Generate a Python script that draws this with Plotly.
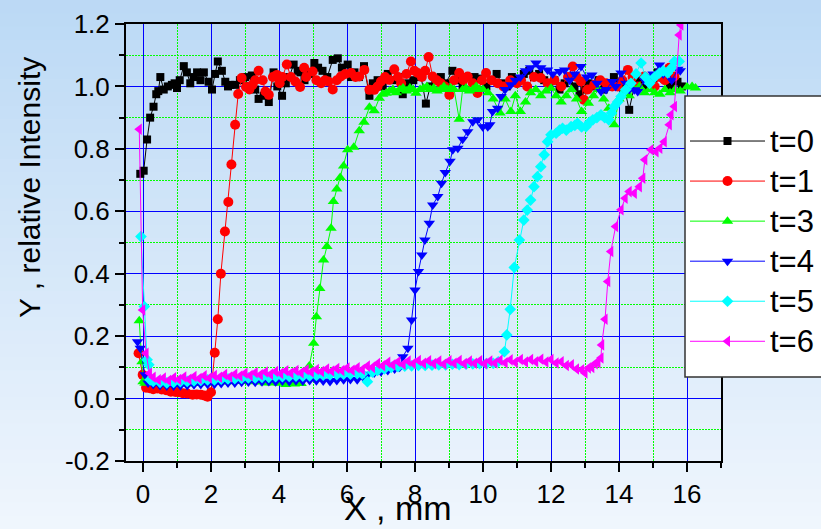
import plotly.graph_objects as go

# ---------------- data (x in mm, y relative intensity) ----------------
T0 = [(-0.08, 0.72), (0.02, 0.73), (0.12, 0.83), (0.21, 0.90), (0.31, 0.935), (0.39, 0.975), (0.45, 0.985),
      (0.51, 1.03), (0.61, 0.99), (0.73, 1.0), (0.85, 1.005), (0.93, 1.01), (1.0, 0.995), (1.08, 1.02),
      (1.2, 1.065), (1.29, 1.045), (1.39, 1.01), (1.49, 1.03), (1.59, 1.045), (1.69, 1.02), (1.79, 1.045),
      (1.93, 1.015), (2.03, 0.99), (2.12, 1.04), (2.2, 1.08), (2.32, 1.05), (2.42, 1.015), (2.5, 1.0),
      (2.57, 1.005), (2.71, 1.005), (2.85, 1.02), (3.0, 1.03), (3.1, 1.0), (3.2, 1.035), (3.3, 0.99),
      (3.4, 0.96), (3.55, 0.97), (3.7, 0.95), (3.84, 1.045), (3.95, 1.0), (4.09, 0.97), (4.2, 1.01),
      (4.3, 1.03), (4.43, 1.07), (4.55, 1.05), (4.63, 1.045), (4.75, 1.02), (4.9, 1.04), (5.04, 1.075),
      (5.15, 1.06), (5.28, 1.05), (5.42, 1.03), (5.58, 1.085), (5.73, 1.09), (5.85, 1.06), (6.02, 1.07),
      (6.12, 1.03), (6.22, 1.045), (6.35, 1.03), (6.5, 1.065), (6.66, 0.97), (6.76, 1.01), (6.9, 1.02),
      (7.05, 1.0), (7.2, 1.04), (7.35, 1.02), (7.5, 1.03), (7.64, 0.975), (7.8, 1.01), (7.95, 1.02),
      (8.18, 1.03), (8.32, 0.945), (8.45, 1.0), (8.6, 1.02), (8.76, 1.03), (8.9, 1.01), (9.1, 1.05),
      (9.25, 1.02), (9.4, 1.0), (9.55, 1.03), (9.75, 1.03), (9.94, 1.025), (10.1, 1.0), (10.25, 1.02),
      (10.4, 1.04), (10.55, 1.01), (10.7, 1.0), (10.85, 1.03), (11.0, 1.02), (11.2, 1.04), (11.36, 1.05),
      (11.5, 1.03), (11.65, 1.04), (11.8, 1.02), (11.95, 1.0), (12.1, 1.02), (12.25, 0.99), (12.4, 1.01),
      (12.55, 1.03), (12.69, 1.0), (12.84, 0.975), (12.98, 0.99), (13.1, 1.01), (13.25, 1.0), (13.4, 1.02),
      (13.55, 0.99), (13.7, 1.0), (13.85, 1.03), (14.0, 1.01), (14.15, 1.0), (14.3, 0.925), (14.45, 1.0),
      (14.55, 1.025), (14.7, 1.01), (14.85, 1.0), (15.0, 1.02), (15.14, 1.045), (15.33, 1.025), (15.5, 1.0),
      (15.72, 1.015), (15.85, 1.0)]

T1 = [(-0.13, 0.145), (-0.01, 0.076), (0.09, 0.035), (0.2, 0.033), (0.3, 0.03), (0.42, 0.032), (0.55, 0.029),
      (0.68, 0.027), (0.82, 0.022), (0.95, 0.021), (1.05, 0.02), (1.17, 0.017), (1.3, 0.016), (1.46, 0.012),
      (1.58, 0.013), (1.7, 0.012), (1.8, 0.01), (1.9, 0.006), (2.0, 0.02), (2.11, 0.147), (2.2, 0.254),
      (2.29, 0.40), (2.41, 0.535), (2.51, 0.63), (2.6, 0.75), (2.71, 0.877), (2.8, 0.976), (2.9, 1.027),
      (3.03, 0.998), (3.13, 0.99), (3.22, 1.005), (3.3, 1.02), (3.4, 1.05), (3.52, 1.02), (3.6, 0.984),
      (3.7, 0.973), (3.82, 1.03), (3.94, 1.037), (4.02, 1.01), (4.1, 1.03), (4.23, 1.07), (4.35, 1.03),
      (4.48, 1.016), (4.62, 0.998), (4.74, 1.06), (4.8, 1.03), (4.99, 1.048), (5.1, 1.02), (5.24, 1.01),
      (5.35, 1.02), (5.45, 1.016), (5.58, 0.99), (5.7, 1.02), (5.82, 1.032), (5.95, 1.04), (6.12, 1.043),
      (6.25, 1.03), (6.36, 1.032), (6.51, 1.053), (6.66, 0.989), (6.8, 0.989), (6.9, 1.0), (7.0, 1.016),
      (7.12, 1.03), (7.24, 1.021), (7.39, 1.055), (7.5, 1.03), (7.59, 1.01), (7.75, 1.04), (7.88, 1.08),
      (7.98, 1.05), (8.08, 1.043), (8.2, 1.03), (8.3, 1.05), (8.4, 1.094), (8.52, 1.032), (8.64, 1.02),
      (8.76, 1.01), (8.88, 1.0), (9.01, 0.973), (9.15, 1.02), (9.3, 1.043), (9.42, 1.02), (9.55, 1.032),
      (9.7, 1.01), (9.84, 0.979), (9.97, 1.02), (10.09, 1.043), (10.25, 1.02), (10.43, 1.01), (10.6, 1.0),
      (10.8, 1.02), (11.0, 1.01), (11.12, 1.02), (11.3, 1.0), (11.5, 1.03), (11.7, 1.027), (11.9, 1.01),
      (12.1, 1.02), (12.3, 1.0), (12.5, 1.03), (12.64, 1.064), (12.75, 1.03), (12.88, 1.016), (12.97, 0.957),
      (13.08, 0.99), (13.27, 1.005), (13.45, 1.02), (13.62, 1.01), (13.8, 1.0), (13.96, 1.0), (14.1, 1.02),
      (14.26, 1.053), (14.4, 1.03), (14.55, 1.0), (14.74, 1.032), (14.9, 1.02), (15.05, 1.0), (15.2, 1.03),
      (15.35, 1.02), (15.48, 1.06), (15.63, 1.032)]

T3 = [(-0.11, 0.249), (-0.03, 0.118), (0.0, 0.054), (0.06, 0.049), (0.2, 0.05), (0.4, 0.048), (0.6, 0.046),
      (0.8, 0.045), (1.0, 0.045), (1.2, 0.046), (1.4, 0.047), (1.6, 0.048), (1.8, 0.05), (2.0, 0.05),
      (2.2, 0.052), (2.4, 0.053), (2.6, 0.054), (2.8, 0.055), (3.0, 0.055), (3.2, 0.054), (3.4, 0.053),
      (3.6, 0.05), (3.8, 0.05), (4.0, 0.049), (4.2, 0.045), (4.45, 0.047), (4.65, 0.048), (4.89, 0.104),
      (5.02, 0.177), (5.1, 0.262), (5.2, 0.353), (5.31, 0.444), (5.41, 0.487), (5.53, 0.546), (5.6, 0.631),
      (5.7, 0.671), (5.8, 0.708), (5.9, 0.745), (6.02, 0.797), (6.2, 0.805), (6.36, 0.858), (6.5, 0.885),
      (6.66, 0.933), (6.8, 0.922), (6.95, 0.962), (7.05, 0.975), (7.15, 0.978), (7.25, 0.985), (7.35, 0.99),
      (7.45, 0.98), (7.55, 0.99), (7.65, 0.995), (7.75, 0.985), (7.85, 0.995), (7.95, 0.99), (8.03, 0.978),
      (8.15, 0.99), (8.25, 0.995), (8.35, 1.0), (8.45, 0.99), (8.55, 0.995), (8.65, 0.985), (8.75, 0.99),
      (8.85, 1.0), (8.95, 0.99), (9.05, 0.995), (9.15, 0.99), (9.3, 0.895), (9.4, 0.99), (9.5, 0.995),
      (9.6, 0.985), (9.7, 0.99), (9.8, 1.0), (9.9, 0.99), (10.0, 0.99), (10.15, 0.98), (10.3, 0.96),
      (10.5, 0.915), (10.65, 0.96), (10.82, 0.92), (10.95, 0.97), (11.1, 0.92), (11.25, 0.95), (11.4, 0.98),
      (11.55, 0.99), (11.7, 0.97), (11.85, 0.985), (12.0, 0.994), (12.15, 0.97), (12.3, 0.95), (12.45, 0.97),
      (12.6, 0.99), (12.75, 0.96), (12.9, 0.92), (13.1, 0.946), (13.25, 0.97), (13.4, 0.99), (13.55, 0.96),
      (13.7, 0.93), (13.86, 0.877), (14.0, 0.96), (14.15, 0.985), (14.3, 0.97), (14.45, 0.99), (14.6, 1.0),
      (14.75, 0.98), (14.9, 0.99), (15.05, 0.98), (15.2, 0.975), (15.35, 0.99), (15.5, 0.98), (15.65, 0.99),
      (15.8, 0.985), (16.0, 0.998), (16.15, 1.0), (16.25, 0.995)]

T4 = [(-0.16, 0.182), (-0.08, 0.161), (0.06, 0.076), (0.15, 0.05), (0.3, 0.045), (0.5, 0.042), (0.7, 0.04),
      (0.9, 0.04), (1.1, 0.041), (1.3, 0.042), (1.5, 0.044), (1.7, 0.045), (1.9, 0.046), (2.1, 0.046),
      (2.3, 0.048), (2.5, 0.05), (2.7, 0.05), (2.9, 0.052), (3.1, 0.053), (3.3, 0.052), (3.5, 0.054),
      (3.7, 0.055), (3.9, 0.054), (4.1, 0.056), (4.3, 0.055), (4.5, 0.057), (4.7, 0.056), (4.9, 0.058),
      (5.1, 0.057), (5.3, 0.056), (5.5, 0.055), (5.7, 0.058), (5.9, 0.06), (6.1, 0.061), (6.3, 0.06),
      (6.5, 0.065), (6.62, 0.078), (6.8, 0.082), (7.0, 0.086), (7.2, 0.09), (7.4, 0.095), (7.55, 0.1),
      (7.64, 0.134), (7.79, 0.161), (7.9, 0.252), (8.0, 0.348), (8.1, 0.407), (8.2, 0.46), (8.29, 0.508),
      (8.42, 0.562), (8.52, 0.62), (8.67, 0.647), (8.78, 0.69), (8.89, 0.724), (9.03, 0.76), (9.11, 0.797),
      (9.26, 0.802), (9.4, 0.831), (9.55, 0.855), (9.7, 0.887), (9.84, 0.893), (9.99, 0.871), (10.14, 0.871),
      (10.2, 0.877), (10.28, 0.92), (10.43, 0.93), (10.53, 0.968), (10.65, 0.99), (10.82, 1.005), (10.95, 1.02),
      (11.1, 1.03), (11.25, 1.05), (11.4, 1.06), (11.56, 1.075), (11.7, 1.06), (11.9, 1.053), (12.05, 1.04),
      (12.25, 1.048), (12.4, 1.053), (12.55, 1.02), (12.7, 1.04), (12.88, 1.064), (13.05, 1.03), (13.2, 1.037),
      (13.35, 1.01), (13.47, 0.984), (13.62, 0.99), (13.8, 1.016), (13.9, 1.0), (14.06, 1.043), (14.2, 1.01),
      (14.3, 0.99), (14.45, 0.989), (14.55, 0.984), (14.75, 1.02), (14.9, 1.03), (15.0, 1.04), (15.19, 1.069),
      (15.3, 1.04), (15.45, 1.05), (15.55, 1.02), (15.73, 1.055), (15.8, 1.05)]

T5 = [(-0.06, 0.519), (0.04, 0.295), (0.12, 0.124), (0.17, 0.108), (0.21, 0.06), (0.3, 0.055), (0.5, 0.052),
      (0.7, 0.05), (0.9, 0.052), (1.1, 0.054), (1.3, 0.055), (1.5, 0.057), (1.7, 0.058), (1.9, 0.06),
      (2.1, 0.06), (2.3, 0.062), (2.5, 0.063), (2.7, 0.064), (2.9, 0.065), (3.1, 0.066), (3.3, 0.066),
      (3.5, 0.068), (3.7, 0.068), (3.9, 0.07), (4.1, 0.07), (4.3, 0.071), (4.5, 0.072), (4.7, 0.072),
      (4.9, 0.073), (5.1, 0.074), (5.3, 0.075), (5.5, 0.076), (5.7, 0.077), (5.9, 0.078), (6.1, 0.078),
      (6.3, 0.08), (6.45, 0.079), (6.6, 0.054), (6.75, 0.085), (6.9, 0.09), (7.1, 0.095), (7.3, 0.1),
      (7.5, 0.102), (7.7, 0.104), (7.9, 0.105), (8.1, 0.106), (8.3, 0.106), (8.5, 0.107), (8.7, 0.108),
      (8.9, 0.108), (9.1, 0.11), (9.3, 0.109), (9.5, 0.11), (9.7, 0.111), (9.9, 0.112), (10.1, 0.112),
      (10.3, 0.113), (10.45, 0.118), (10.63, 0.15), (10.7, 0.204), (10.8, 0.286), (10.92, 0.42),
      (11.07, 0.508), (11.2, 0.572), (11.3, 0.604), (11.4, 0.636), (11.5, 0.679), (11.6, 0.711),
      (11.7, 0.743), (11.8, 0.781), (11.9, 0.823), (12.0, 0.845), (12.15, 0.85), (12.25, 0.86),
      (12.34, 0.866), (12.45, 0.86), (12.59, 0.871), (12.7, 0.875), (12.78, 0.882), (12.9, 0.87),
      (13.03, 0.871), (13.13, 0.885), (13.23, 0.893), (13.35, 0.9), (13.47, 0.909), (13.58, 0.9),
      (13.7, 0.893), (13.78, 0.915), (13.86, 0.936), (13.96, 0.95), (14.06, 0.968), (14.2, 0.99),
      (14.35, 1.01), (14.5, 1.04), (14.65, 1.075), (14.78, 1.03), (14.9, 1.01), (15.05, 1.03),
      (15.19, 1.043), (15.3, 1.05), (15.43, 1.043), (15.55, 1.06), (15.63, 1.08), (15.77, 1.08)]

T6 = [(-0.11, 0.863), (-0.01, 0.284), (0.09, 0.145), (0.19, 0.081), (0.3, 0.068), (0.45, 0.060), (0.6, 0.066),
      (0.75, 0.058), (0.9, 0.067), (1.05, 0.061), (1.2, 0.069), (1.35, 0.062), (1.5, 0.071), (1.65, 0.064),
      (1.8, 0.073), (1.95, 0.066), (2.1, 0.074), (2.25, 0.068), (2.4, 0.077), (2.55, 0.069), (2.7, 0.078),
      (2.85, 0.072), (3.0, 0.081), (3.15, 0.074), (3.3, 0.083), (3.45, 0.076), (3.6, 0.085), (3.75, 0.078),
      (3.9, 0.087), (4.05, 0.08), (4.2, 0.089), (4.35, 0.082), (4.5, 0.09), (4.65, 0.083), (4.8, 0.092),
      (4.95, 0.085), (5.1, 0.093), (5.25, 0.087), (5.4, 0.095), (5.55, 0.088), (5.7, 0.096), (5.85, 0.09),
      (6.0, 0.098), (6.15, 0.091), (6.3, 0.099), (6.45, 0.093), (6.6, 0.104), (6.75, 0.1), (6.9, 0.112),
      (7.05, 0.105), (7.2, 0.116), (7.35, 0.108), (7.5, 0.118), (7.65, 0.11), (7.8, 0.12), (7.95, 0.112),
      (8.1, 0.122), (8.25, 0.113), (8.4, 0.121), (8.55, 0.112), (8.7, 0.12), (8.85, 0.111), (9.0, 0.121),
      (9.15, 0.113), (9.3, 0.122), (9.45, 0.112), (9.6, 0.12), (9.75, 0.113), (9.9, 0.121), (10.05, 0.112),
      (10.2, 0.12), (10.35, 0.114), (10.5, 0.123), (10.65, 0.115), (10.8, 0.124), (10.95, 0.116),
      (11.1, 0.125), (11.25, 0.117), (11.4, 0.125), (11.55, 0.118), (11.7, 0.126), (11.85, 0.117),
      (12.0, 0.125), (12.15, 0.114), (12.3, 0.118), (12.45, 0.106), (12.6, 0.108), (12.75, 0.095),
      (12.9, 0.092), (13.0, 0.082), (13.1, 0.098), (13.2, 0.1), (13.3, 0.112), (13.38, 0.115), (13.47, 0.13),
      (13.49, 0.172), (13.59, 0.254), (13.67, 0.375), (13.76, 0.471), (13.9, 0.551), (14.06, 0.605),
      (14.18, 0.642), (14.3, 0.663), (14.45, 0.658), (14.6, 0.679), (14.7, 0.706), (14.76, 0.765),
      (14.94, 0.797), (15.09, 0.791), (15.2, 0.802), (15.33, 0.823), (15.48, 0.877), (15.53, 0.909),
      (15.63, 0.936), (15.77, 1.165), (15.82, 1.197), (15.88, 1.26)]

SERIES = [("t=0", T0), ("t=1", T1), ("t=3", T3), ("t=4", T4), ("t=5", T5), ("t=6", T6)]
COLORS = ["#000000", "#ff0000", "#00ff00", "#0000ff", "#00ffff", "#ff00ff"]
SYMBOLS = ["square", "circle", "triangle-up", "triangle-down", "diamond", "triangle-left"]
SIZES = [8, 10, 10, 10, 9, 10]

X_RANGE = [-0.5, 17]
Y_RANGE = [-0.2, 1.2]

FONT = "Liberation Sans, Arial, sans-serif"

fig = go.Figure()
for (name, pts), col, sym, sz in zip(SERIES, COLORS, SYMBOLS, SIZES):
    xs = [p[0] for p in pts]
    ys = [p[1] for p in pts]
    fig.add_trace(go.Scatter(
        x=xs, y=ys, name="<span style='font-size:31px'>%s</span>" % name, mode="lines+markers",
        line=dict(color=col, width=1),
        marker=dict(symbol=sym, size=sz, color=col, line=dict(width=0)),
    ))

# background gradient (figure-wide), in paper coordinates
W, H = 821, 529
L, R, T, B = 126, 100, 24, 68
pw, ph = W - L - R, H - T - B
top_rgb = (187, 217, 245)
bot_rgb = (240, 246, 253)
N = 40
shapes = []
for i in range(N):
    y0px = i * H / N
    y1px = (i + 1) * H / N + 1
    f = (i + 0.5) / N
    c = tuple(int(round(top_rgb[k] + (bot_rgb[k] - top_rgb[k]) * f)) for k in range(3))
    shapes.append(dict(
        type="rect", xref="paper", yref="paper", layer="below",
        x0=-L / pw - 0.01, x1=1 + R / pw + 0.01,
        y0=(H - B - y1px) / ph, y1=(H - B - y0px) / ph,
        fillcolor="rgb(%d,%d,%d)" % c, line=dict(width=0),
    ))

# legend box (drawn as a shape so its padding matches the reference)
LEG_L, LEG_T, LEG_B = 685, 96, 377
shapes.append(dict(
    type="rect", xref="paper", yref="paper", layer="above",
    x0=(LEG_L - L) / pw, x1=(W + 5 - L) / pw,
    y0=(H - B - LEG_B) / ph, y1=(H - B - LEG_T) / ph,
    fillcolor="white", line=dict(color="#333333", width=1.5),
))

minor_common = dict(ticks="outside", ticklen=5, tickwidth=2, tickcolor="black",
                    showgrid=True, gridcolor="#00ff00", griddash="2px,1px", gridwidth=1)

axis_common = dict(
    showline=True, linecolor="black", linewidth=2, mirror=True,
    ticks="outside", ticklen=9, tickwidth=2, tickcolor="black",
    showgrid=True, gridcolor="#0000ff", gridwidth=1, zeroline=False,
    tickfont=dict(family=FONT, size=26, color="black"),
)

fig.update_layout(
    width=W, height=H,
    margin=dict(l=L, r=R, t=T, b=B, autoexpand=False),
    paper_bgcolor="rgb(214,232,249)",
    plot_bgcolor="rgba(0,0,0,0)",
    shapes=shapes,
    showlegend=True,
    legend=dict(
        x=(LEG_L - L) / pw, y=(H - B - 116) / ph, xanchor="left", yanchor="top",
        bgcolor="rgba(0,0,0,0)", borderwidth=0,
        font=dict(family=FONT, size=28.5, color="black"),
        itemwidth=75,
        tracegroupgap=0,
    ),
    xaxis=dict(
        range=X_RANGE, tickmode="linear", tick0=0, dtick=2,
        minor=dict(dtick=1, tick0=0, **minor_common),
        **axis_common,
    ),
    yaxis=dict(
        range=Y_RANGE, tickmode="linear", tick0=0, dtick=0.2, tickformat=".1f",
        labelalias={"\u22120.2": "-0.2"},
        minor=dict(dtick=0.1, tick0=0, **minor_common),
        **axis_common,
    ),
    annotations=[
        dict(text="X , mm", xref="paper", yref="paper",
             x=(397.5 - L) / pw, y=(H - B - 508) / ph, xanchor="center", yanchor="middle",
             showarrow=False, font=dict(family=FONT, size=34, color="black")),
        dict(text="Y , relative Intensity", xref="paper", yref="paper", textangle=-90,
             x=(29 - L) / pw, y=(H - B - 188) / ph, xanchor="center", yanchor="middle",
             showarrow=False, font=dict(family=FONT, size=30, color="black")),
    ],
)

fig.write_html("out.html", config={"displayModeBar": False},
               post_script="document.body.style.margin='0px';document.body.style.overflow='hidden';")
